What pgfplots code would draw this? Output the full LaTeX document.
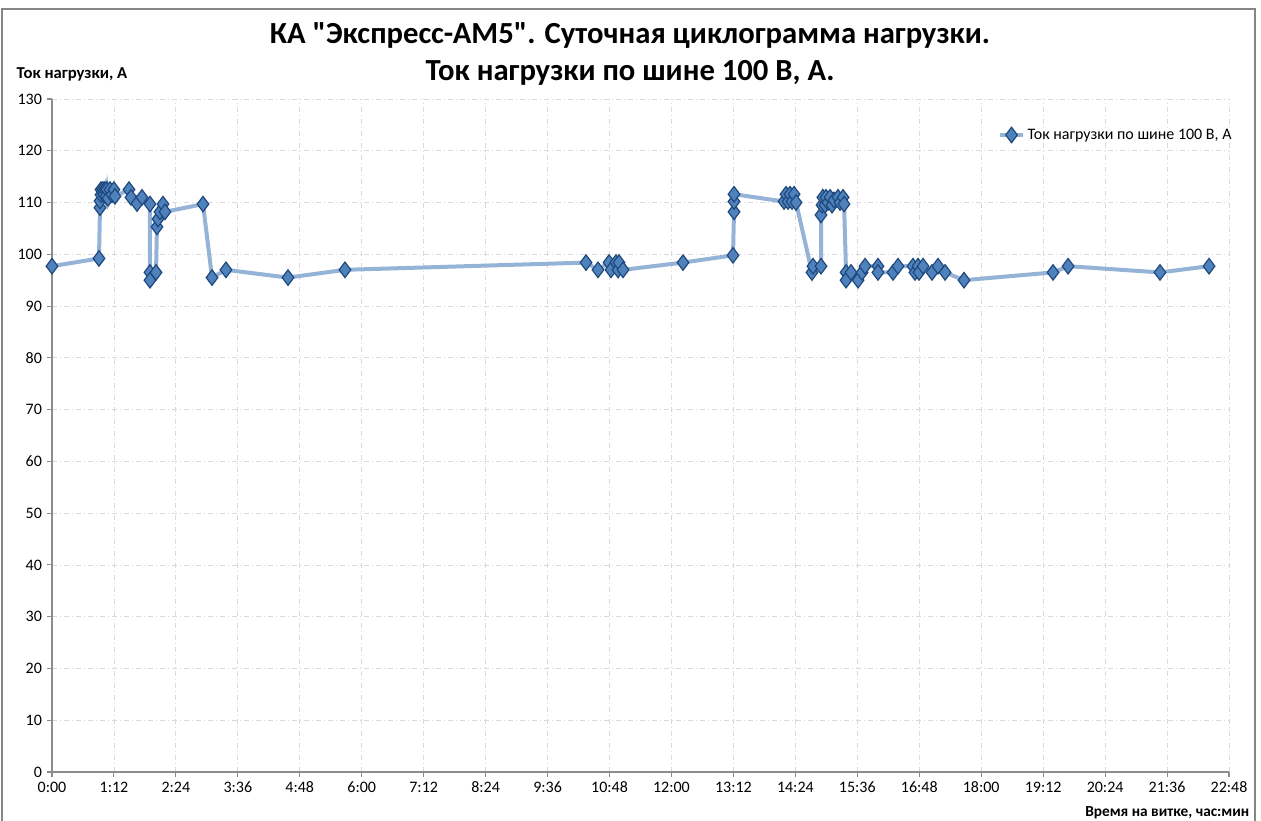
\documentclass[border=0pt]{standalone}
\usepackage{fontspec}
\setmainfont{Carlito}[Ligatures=TeXOff]
\usepackage{pgfplots}
\pgfplotsset{compat=1.18}
\definecolor{serline}{RGB}{149,179,215}
\definecolor{serfill}{RGB}{79,129,189}
\definecolor{serdraw}{RGB}{31,73,125}
\definecolor{frame}{RGB}{134,134,134}
\begin{document}
\begin{tikzpicture}[x=0.75pt,y=0.75pt]
% picture frame: 1261x821 px, axis origin at px (52,772)
\useasboundingbox (-52,-49) rectangle (1209,772);
\draw[frame, line width=1pt] (-50,-60) -- (-50,763) -- (1203,763) -- (1203,-60);
\begin{axis}[
  at={(0,0)}, anchor=origin,
  width=882.75pt, height=504.75pt,
  scale only axis,
  xmin=0, xmax=1368, ymin=0, ymax=130,
  xtick={0,72,...,1368},
  xticklabels={0:00,1:12,2:24,3:36,4:48,6:00,7:12,8:24,9:36,10:48,12:00,13:12,14:24,15:36,16:48,18:00,19:12,20:24,21:36,22:48},
  ytick={0,10,...,130},
  tick label style={font=\fontsize{12}{14}\selectfont},
  /pgf/number format/assume math mode=true,
  axis x line*=bottom, axis y line*=left,
  axis line style={black!45, line width=0.8pt, -},
  tick style={black!45, line width=0.8pt},
  tick align=outside, major tick length=4pt,
  xmajorgrids, ymajorgrids,
  grid style={black!15, dash pattern=on 4pt off 2pt on 1pt off 2pt, line width=0.6pt},
  legend style={at={(1.008,0.9465)}, anchor=east, draw=none, fill=none,
    font=\fontsize{12}{14}\selectfont},
  legend cell align=left,
  clip=false,
]
\addplot[serline, line width=3pt, mark=diamond*, mark size=5.8pt,
  mark options={fill=serfill, draw=serdraw, line width=0.9pt, solid}]
coordinates {
(0,97.7) (54.6,99.2) (55.8,109.0) (55.8,110.3) (57,111.5) (57,112.5)
(59.3,112.5) (60.4,111.5) (61.6,112.5) (62.8,111.2) (63.9,112.5) (65.1,110.8)
(67.4,112.5) (69.7,111.5) (72,112.5) (73.2,111.2)
(89.5,112.5) (91.8,111.0) (98.8,109.8) (104.6,111.0) (113.9,109.7)
(113.9,96.5) (113.9,95.0) (120.9,96.5) (122,105.3) (123.2,106.8) (125.5,108.2)
(129,109.7) (131.3,108.2)
(175.5,109.7) (186,95.5) (202.2,97.0) (274.3,95.5) (340.5,97.0)
(620.7,98.4) (634.6,97.0) (647.4,98.4) (649.7,97.0) (655.5,98.4) (657.9,97.0)
(659,98.4) (663.7,97.0) (733.4,98.4)
(791.5,99.8) (792.7,108.2) (792.7,110.2) (792.7,111.6)
(850.8,110.2) (853.1,111.6) (855.5,110.2) (857.8,111.6) (860.1,110.2) (862.5,111.6) (864.8,110.0)
(883.3,96.5) (884.5,97.7) (893.8,97.7) (893.8,107.6)
(895,109.5) (896,111.0) (898.5,109.5) (899.6,111.0) (901.9,110.0) (904.3,111.0)
(906.6,109.5) (908.9,110.5) (913.6,111.0) (915.9,110.0) (919.4,111.0) (920.6,109.7)
(922.9,96.5) (922.9,95.0) (928.7,96.5) (936.9,95.0) (941.5,96.5) (945,97.7)
(960,97.7) (960,96.5) (977.5,96.5) (983.3,97.7) (1000.7,97.7) (1003,96.5)
(1006.6,97.7) (1007.7,96.5) (1012.4,97.7) (1022.8,96.5) (1029.8,97.7) (1038,96.5)
(1060,95.0) (1163.5,96.5) (1181,97.7) (1287.8,96.5) (1344.8,97.7)
};
\addlegendentry{Ток нагрузки по шине 100 В, А}
\end{axis}
\node[anchor=base west, font=\bfseries\fontsize{12.5}{14}\selectfont] at (-40,693) {Ток нагрузки, А};
\node[anchor=base east, font=\bfseries\fontsize{11.5}{13}\selectfont] at (1202,-45) {Время на витке, час:мин};
\node[align=center, font=\bfseries\fontsize{23}{28}\selectfont, anchor=center] at (578,718) {КА "Экспресс-АМ5". Суточная циклограмма нагрузки.\\Ток нагрузки по шине 100 В, А.};
\end{tikzpicture}
\end{document}
